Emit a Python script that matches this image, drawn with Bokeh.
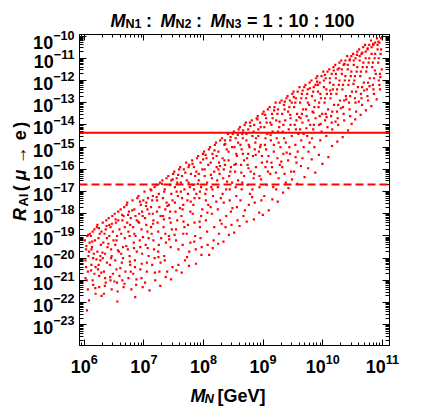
import math
from bokeh.plotting import figure
from bokeh.layouts import column, row
from bokeh.models import Range1d, LogAxis, FixedTicker, Label, Span, CustomJSTickFormatter
from bokeh.embed import file_html
from bokeh.resources import INLINE

# ---------------- data: (log10 M_N/GeV, log10 R_Al) ----------------
pts_6 = [(6.01,-19.2),(6.02,-20.1),(6.03,-19.6),(6.04,-21.0),(6.05,-19.0),(6.06,-20.6),(6.07,-19.9),(6.08,-21.9),(6.09,-19.3),(6.03,-20.4),(6.06,-21.4),(6.08,-19.7),(6.02,-20.9),(6.095,-18.9),
(6.11,-19.0),(6.12,-20.3),(6.13,-19.5),(6.14,-18.8),(6.15,-21.2),(6.16,-19.8),(6.17,-20.7),(6.18,-19.2),(6.19,-21.6),(6.12,-19.6),(6.15,-20.0),(6.17,-18.7),(6.19,-20.4),(6.14,-21.0),
(6.21,-18.6),(6.22,-19.7),(6.23,-20.5),(6.24,-19.1),(6.25,-21.3),(6.26,-18.9),(6.27,-20.1),(6.28,-19.4),(6.29,-21.7),(6.22,-18.5),(6.25,-20.8),(6.27,-19.9),(6.29,-18.8),(6.24,-20.3),
(6.31,-18.4),(6.32,-19.3),(6.33,-20.6),(6.34,-18.9),(6.35,-19.8),(6.36,-21.1),(6.37,-18.3),(6.38,-20.2),(6.39,-19.5),(6.33,-21.6),(6.36,-18.7),(6.38,-19.1),(6.31,-20.0),(6.35,-20.9),
(6.41,-18.2),(6.42,-19.0),(6.43,-20.3),(6.44,-18.6),(6.45,-19.6),(6.46,-21.4),(6.47,-18.1),(6.48,-20.7),(6.49,-19.2),(6.42,-18.5),(6.44,-21.0),(6.46,-19.9),(6.48,-18.8),(6.45,-20.0),
(6.51,-18.0),(6.52,-19.4),(6.53,-18.4),(6.54,-20.5),(6.55,-19.0),(6.56,-21.5),(6.57,-17.9),(6.58,-19.7),(6.59,-18.7),(6.52,-20.1),(6.55,-21.1),(6.57,-18.3),(6.59,-20.8),(6.54,-19.2),
(6.61,-17.8),(6.62,-18.9),(6.63,-20.2),(6.64,-18.3),(6.65,-19.5),(6.66,-21.3),(6.67,-17.7),(6.68,-18.6),(6.69,-20.6),(6.62,-19.8),(6.64,-21.0),(6.66,-18.1),(6.68,-19.1),(6.65,-20.0),
(6.71,-17.6),(6.72,-18.4),(6.73,-19.6),(6.74,-20.9),(6.75,-17.9),(6.76,-19.0),(6.77,-20.3),(6.78,-18.2),(6.79,-21.4),(6.72,-17.5),(6.74,-18.8),(6.76,-19.9),(6.78,-20.6),(6.77,-18.5),
(6.81,-17.4),(6.82,-18.6),(6.83,-19.3),(6.84,-17.8),(6.85,-20.1),(6.86,-18.1),(6.87,-21.2),(6.88,-19.7),(6.89,-17.3),(6.82,-20.7),(6.84,-18.9),(6.86,-19.0),(6.88,-18.3),(6.85,-20.4),
(6.91,-17.2),(6.92,-18.0),(6.93,-19.2),(6.94,-20.5),(6.95,-17.6),(6.96,-18.7),(6.97,-19.8),(6.98,-21.3),(6.99,-17.4),(6.92,-18.4),(6.94,-19.5),(6.96,-20.9),(6.98,-18.1),(6.97,-17.9),
(6.035,-19.45),(6.065,-18.95),(6.115,-20.55),(6.135,-19.25),(6.185,-21.35),(6.205,-20.05),(6.245,-18.65),(6.285,-20.65),(6.305,-19.75),(6.345,-21.25),(6.375,-18.55),(6.405,-19.35),
(6.435,-20.85),(6.465,-18.45),(6.505,-21.05),(6.525,-18.25),(6.565,-19.65),(6.605,-20.45),(6.635,-18.05),(6.675,-21.15),(6.705,-19.45),(6.735,-18.05),(6.765,-20.15),(6.805,-17.85),
(6.835,-19.55),(6.875,-20.95),(6.905,-18.35),(6.935,-17.45),(6.965,-20.25),(6.985,-19.05),(6.045,-22.35),(6.555,-21.95),(6.855,-21.75)]

pts_7 = [(7.01,-17.0),(7.02,-18.2),(7.03,-19.4),(7.04,-17.5),(7.05,-20.6),(7.06,-18.8),(7.07,-17.3),(7.08,-19.9),(7.09,-18.0),(7.02,-21.1),(7.04,-18.5),(7.06,-17.8),(7.08,-19.1),(7.05,-20.2),
(7.11,-16.9),(7.12,-17.7),(7.13,-18.9),(7.14,-20.3),(7.15,-17.2),(7.16,-18.3),(7.17,-19.6),(7.18,-16.8),(7.19,-21.0),(7.12,-18.6),(7.14,-17.4),(7.16,-19.2),(7.18,-20.0),(7.15,-18.0),
(7.21,-16.7),(7.22,-17.9),(7.23,-18.4),(7.24,-19.7),(7.25,-17.1),(7.26,-20.6),(7.27,-16.6),(7.28,-18.1),(7.29,-19.1),(7.22,-17.4),(7.24,-18.8),(7.26,-17.7),(7.28,-20.2),(7.25,-19.4),
(7.31,-16.5),(7.32,-17.3),(7.33,-18.6),(7.34,-19.9),(7.35,-16.9),(7.36,-17.8),(7.37,-19.3),(7.38,-16.4),(7.39,-20.6),(7.32,-18.1),(7.34,-17.0),(7.36,-18.9),(7.38,-17.5),(7.35,-20.1),
(7.41,-16.3),(7.42,-17.6),(7.43,-18.2),(7.44,-16.7),(7.45,-19.5),(7.46,-17.1),(7.47,-18.7),(7.48,-20.4),(7.49,-16.2),(7.42,-19.0),(7.44,-17.9),(7.46,-16.5),(7.48,-17.4),(7.45,-18.4),
(7.51,-16.1),(7.52,-16.8),(7.53,-17.9),(7.54,-19.2),(7.55,-16.4),(7.56,-18.3),(7.57,-17.2),(7.58,-20.3),(7.59,-16.0),(7.52,-17.5),(7.54,-18.7),(7.56,-16.6),(7.58,-19.6),(7.55,-17.0),
(7.61,-15.9),(7.62,-17.0),(7.63,-18.1),(7.64,-16.3),(7.65,-19.4),(7.66,-17.6),(7.67,-16.0),(7.68,-18.6),(7.69,-20.1),(7.62,-16.6),(7.64,-17.3),(7.66,-18.9),(7.68,-16.9),(7.65,-17.8),
(7.71,-15.7),(7.72,-16.5),(7.73,-17.4),(7.74,-18.5),(7.75,-15.9),(7.76,-19.7),(7.77,-16.8),(7.78,-17.9),(7.79,-16.2),(7.72,-18.9),(7.74,-17.1),(7.76,-15.8),(7.78,-19.3),(7.75,-16.6),
(7.81,-15.6),(7.82,-16.7),(7.83,-17.6),(7.84,-15.9),(7.85,-18.4),(7.86,-16.3),(7.87,-19.6),(7.88,-17.1),(7.89,-15.5),(7.82,-18.0),(7.84,-16.9),(7.86,-19.0),(7.88,-16.1),(7.85,-17.3),
(7.91,-15.4),(7.92,-16.2),(7.93,-17.3),(7.94,-18.6),(7.95,-15.7),(7.96,-16.8),(7.97,-19.5),(7.98,-17.8),(7.99,-15.3),(7.92,-16.5),(7.94,-17.0),(7.96,-18.1),(7.98,-16.0),(7.95,-19.1),
(7.035,-17.65),(7.065,-19.55),(7.095,-21.45),(7.125,-16.95),(7.155,-18.45),(7.185,-20.65),(7.215,-17.25),(7.245,-19.95),(7.275,-21.25),(7.305,-16.65),(7.335,-18.25),(7.365,-20.85),
(7.395,-17.65),(7.425,-19.15),(7.455,-20.95),(7.485,-16.45),(7.515,-18.95),(7.545,-20.55),(7.575,-16.25),(7.605,-17.75),(7.635,-20.65),(7.665,-18.35),(7.695,-16.15),(7.725,-19.95),
(7.755,-20.35),(7.785,-17.45),(7.815,-15.75),(7.845,-19.25),(7.875,-20.25),(7.905,-16.65),(7.935,-18.35),(7.965,-19.85),(7.995,-15.55)]

pts_8 = [(8.01,-15.2),(8.02,-16.0),(8.03,-17.1),(8.04,-18.3),(8.05,-15.5),(8.06,-16.6),(8.07,-19.4),(8.08,-17.6),(8.09,-15.1),(8.02,-16.3),(8.04,-17.4),(8.06,-18.8),(8.08,-15.8),(8.05,-16.9),
(8.11,-15.0),(8.12,-15.7),(8.13,-16.8),(8.14,-18.0),(8.15,-15.3),(8.16,-17.2),(8.17,-19.2),(8.18,-16.1),(8.19,-14.9),(8.12,-17.7),(8.14,-16.4),(8.16,-15.5),(8.18,-18.6),(8.15,-16.9),
(8.21,-14.8),(8.22,-15.9),(8.23,-16.5),(8.24,-17.8),(8.25,-15.2),(8.26,-18.9),(8.27,-16.2),(8.28,-14.7),(8.29,-17.3),(8.22,-15.4),(8.24,-16.8),(8.26,-15.7),(8.28,-18.3),(8.25,-16.0),
(8.31,-14.6),(8.32,-15.5),(8.33,-16.4),(8.34,-17.5),(8.35,-14.9),(8.36,-15.8),(8.37,-18.6),(8.38,-16.9),(8.39,-15.1),(8.32,-17.1),(8.34,-16.0),(8.36,-14.7),(8.38,-18.1),(8.35,-15.6),
(8.41,-14.4),(8.42,-15.2),(8.43,-16.3),(8.44,-17.4),(8.45,-14.7),(8.46,-15.9),(8.47,-18.5),(8.48,-16.6),(8.49,-14.4),(8.42,-15.6),(8.44,-16.9),(8.46,-17.9),(8.48,-15.0),(8.45,-16.1),
(8.51,-14.3),(8.52,-15.0),(8.53,-16.1),(8.54,-14.6),(8.55,-17.2),(8.56,-15.4),(8.57,-18.3),(8.58,-16.5),(8.59,-14.2),(8.52,-15.8),(8.54,-16.8),(8.56,-17.7),(8.58,-14.8),(8.55,-15.3),
(8.61,-14.1),(8.62,-14.9),(8.63,-15.8),(8.64,-16.9),(8.65,-14.4),(8.66,-15.3),(8.67,-18.1),(8.68,-16.3),(8.69,-14.0),(8.62,-17.4),(8.64,-15.1),(8.66,-14.6),(8.68,-15.6),(8.65,-16.6),
(8.71,-13.9),(8.72,-14.7),(8.73,-15.5),(8.74,-16.7),(8.75,-14.2),(8.76,-17.6),(8.77,-15.0),(8.78,-13.9),(8.79,-16.1),(8.72,-14.4),(8.74,-15.8),(8.76,-14.9),(8.78,-17.1),(8.75,-15.3),
(8.81,-13.8),(8.82,-14.5),(8.83,-15.4),(8.84,-16.4),(8.85,-14.0),(8.86,-17.5),(8.87,-14.8),(8.88,-15.9),(8.89,-13.7),(8.82,-16.9),(8.84,-14.3),(8.86,-15.1),(8.88,-14.6),(8.85,-16.2),
(8.91,-13.6),(8.92,-14.2),(8.93,-15.2),(8.94,-16.3),(8.95,-13.9),(8.96,-14.9),(8.97,-17.4),(8.98,-15.7),(8.99,-13.5),(8.92,-14.5),(8.94,-16.8),(8.96,-14.1),(8.98,-15.4),(8.95,-15.0),
(8.035,-15.35),(8.065,-17.95),(8.095,-19.85),(8.125,-16.25),(8.155,-19.55),(8.185,-15.15),(8.215,-17.45),(8.245,-19.35),(8.275,-15.85),(8.305,-18.45),(8.335,-19.25),(8.365,-14.85),
(8.395,-16.55),(8.425,-18.95),(8.455,-14.55),(8.485,-17.75),(8.515,-18.85),(8.545,-15.75),(8.575,-14.45),(8.605,-18.55),(8.635,-16.15),(8.665,-14.25),(8.695,-17.85),(8.725,-18.35),
(8.755,-15.95),(8.785,-14.05),(8.815,-17.25),(8.845,-18.25),(8.875,-15.35),(8.905,-13.75),(8.935,-17.95),(8.965,-16.45),(8.995,-18.05)]

pts_9 = [(9.01,-13.4),(9.02,-14.1),(9.03,-14.9),(9.04,-15.9),(9.05,-13.7),(9.06,-16.7),(9.07,-14.4),(9.08,-13.3),(9.09,-15.4),(9.02,-17.2),(9.04,-14.6),(9.06,-13.9),(9.08,-16.1),(9.05,-15.1),
(9.11,-13.2),(9.12,-13.9),(9.13,-14.7),(9.14,-15.7),(9.15,-13.5),(9.16,-14.3),(9.17,-16.8),(9.18,-15.2),(9.19,-13.2),(9.12,-16.2),(9.14,-14.0),(9.16,-13.7),(9.18,-14.9),(9.15,-15.9),
(9.21,-13.0),(9.22,-13.8),(9.23,-14.6),(9.24,-15.5),(9.25,-13.3),(9.26,-16.4),(9.27,-14.1),(9.28,-13.0),(9.29,-15.0),(9.22,-16.9),(9.24,-13.5),(9.26,-14.8),(9.28,-15.8),(9.25,-14.3),
(9.31,-12.9),(9.32,-13.5),(9.33,-14.3),(9.34,-15.3),(9.35,-13.1),(9.36,-16.2),(9.37,-13.8),(9.38,-14.8),(9.39,-12.8),(9.32,-15.9),(9.34,-14.0),(9.36,-13.3),(9.38,-16.6),(9.35,-14.6),
(9.41,-12.7),(9.42,-13.4),(9.43,-14.2),(9.44,-15.0),(9.45,-12.9),(9.46,-13.7),(9.47,-16.1),(9.48,-14.5),(9.49,-12.6),(9.42,-15.6),(9.44,-13.2),(9.46,-14.0),(9.48,-13.0),(9.45,-15.3),
(9.51,-12.5),(9.52,-13.2),(9.53,-14.0),(9.54,-14.9),(9.55,-12.8),(9.56,-15.7),(9.57,-13.5),(9.58,-12.5),(9.59,-14.4),(9.52,-16.1),(9.54,-13.0),(9.56,-13.8),(9.58,-15.2),(9.55,-14.2),
(9.61,-12.3),(9.62,-13.0),(9.63,-13.7),(9.64,-14.7),(9.65,-12.6),(9.66,-15.5),(9.67,-13.3),(9.68,-15.0),(9.69,-12.3),(9.62,-14.2),(9.64,-12.8),(9.66,-13.9),(9.68,-14.4),(9.65,-13.5),
(9.71,-12.2),(9.72,-12.8),(9.73,-13.6),(9.74,-14.5),(9.75,-12.4),(9.76,-15.2),(9.77,-13.1),(9.78,-12.1),(9.79,-14.0),(9.72,-13.3),(9.74,-12.6),(9.76,-13.8),(9.78,-14.8),(9.75,-13.0),
(9.81,-12.0),(9.82,-12.7),(9.83,-13.4),(9.84,-14.2),(9.85,-12.3),(9.86,-15.0),(9.87,-12.9),(9.88,-13.7),(9.89,-11.9),(9.82,-14.6),(9.84,-12.5),(9.86,-13.2),(9.88,-12.2),(9.85,-14.0),
(9.91,-11.8),(9.92,-12.5),(9.93,-13.2),(9.94,-14.0),(9.95,-12.1),(9.96,-14.7),(9.97,-12.8),(9.98,-11.8),(9.99,-13.5),(9.92,-12.2),(9.94,-13.0),(9.96,-12.6),(9.98,-14.3),(9.95,-13.6),
(9.035,-13.55),(9.065,-15.65),(9.095,-17.85),(9.125,-14.45),(9.155,-17.35),(9.185,-13.35),(9.215,-16.15),(9.245,-17.45),(9.275,-13.85),(9.305,-15.65),(9.335,-17.05),(9.365,-12.95),
(9.395,-15.25),(9.425,-16.85),(9.455,-13.55),(9.485,-16.45),(9.515,-12.75),(9.545,-15.45),(9.575,-16.65),(9.605,-13.65),(9.635,-15.85),(9.665,-12.45),(9.695,-16.35),(9.725,-14.15),
(9.755,-15.95),(9.785,-12.35),(9.815,-15.55),(9.845,-13.45),(9.875,-16.15),(9.905,-12.05),(9.935,-15.35),(9.965,-13.95),(9.995,-15.75)]

pts_10 = [(10.01,-11.6),(10.02,-12.3),(10.03,-13.0),(10.04,-13.8),(10.05,-11.9),(10.06,-14.5),(10.07,-12.6),(10.08,-11.6),(10.09,-13.3),(10.02,-12.0),(10.04,-12.8),(10.06,-12.4),(10.08,-14.1),(10.05,-13.5),
(10.11,-11.5),(10.12,-12.1),(10.13,-12.8),(10.14,-13.6),(10.15,-11.7),(10.16,-14.2),(10.17,-12.4),(10.18,-11.4),(10.19,-13.1),(10.12,-11.9),(10.14,-12.6),(10.16,-13.4),(10.18,-12.2),(10.15,-13.9),
(10.21,-11.3),(10.22,-11.9),(10.23,-12.6),(10.24,-13.4),(10.25,-11.5),(10.26,-14.0),(10.27,-12.2),(10.28,-11.2),(10.29,-12.9),(10.22,-11.7),(10.24,-12.4),(10.26,-13.1),(10.28,-12.0),(10.25,-13.7),
(10.31,-11.1),(10.32,-11.7),(10.33,-12.4),(10.34,-13.2),(10.35,-11.3),(10.36,-13.8),(10.37,-12.0),(10.38,-11.1),(10.39,-12.7),(10.32,-11.5),(10.34,-12.2),(10.36,-12.9),(10.38,-11.8),(10.35,-13.5),
(10.41,-10.9),(10.42,-11.5),(10.43,-12.2),(10.44,-13.0),(10.45,-11.1),(10.46,-13.6),(10.47,-11.8),(10.48,-10.9),(10.49,-12.5),(10.42,-11.3),(10.44,-12.0),(10.46,-12.7),(10.48,-11.6),(10.45,-13.3),
(10.51,-10.8),(10.52,-11.3),(10.53,-12.0),(10.54,-12.8),(10.55,-11.0),(10.56,-13.4),(10.57,-11.6),(10.58,-10.7),(10.59,-12.3),(10.52,-11.1),(10.54,-11.8),(10.56,-12.5),(10.58,-11.4),(10.55,-13.0),
(10.61,-10.6),(10.62,-11.1),(10.63,-11.8),(10.64,-12.6),(10.65,-10.8),(10.66,-13.1),(10.67,-11.4),(10.68,-10.5),(10.69,-12.1),(10.62,-10.9),(10.64,-11.6),(10.66,-12.3),(10.68,-11.2),(10.65,-12.8),
(10.71,-10.4),(10.72,-11.0),(10.73,-11.6),(10.74,-12.4),(10.75,-10.6),(10.76,-12.9),(10.77,-11.2),(10.78,-10.4),(10.79,-11.9),(10.72,-10.7),(10.74,-11.4),(10.76,-12.1),(10.78,-11.0),(10.75,-12.7),
(10.81,-10.2),(10.82,-10.8),(10.83,-11.4),(10.84,-12.2),(10.85,-10.4),(10.86,-12.6),(10.87,-11.0),(10.88,-10.3),(10.89,-11.7),(10.82,-10.5),(10.84,-11.2),(10.86,-11.9),(10.88,-10.8),(10.85,-12.4),
(10.91,-10.1),(10.92,-10.6),(10.93,-11.2),(10.94,-12.0),(10.95,-10.3),(10.96,-12.4),(10.97,-10.8),(10.98,-10.1),(10.99,-11.5),(10.92,-10.4),(10.94,-11.0),(10.96,-11.7),(10.98,-10.6),(10.95,-12.2),
(10.035,-11.75),(10.065,-13.65),(10.095,-15.45),(10.125,-12.45),(10.155,-14.95),(10.185,-11.55),(10.215,-13.85),(10.245,-14.75),(10.275,-11.45),(10.305,-13.25),(10.335,-14.55),(10.365,-11.25),
(10.395,-12.85),(10.425,-14.25),(10.455,-11.05),(10.485,-13.95),(10.515,-12.15),(10.545,-13.75),(10.575,-10.85),(10.605,-12.95),(10.635,-13.55),(10.665,-10.75),(10.695,-12.45),(10.725,-13.35),
(10.755,-10.55),(10.785,-12.25),(10.815,-13.15),(10.845,-10.35),(10.875,-11.55),(10.905,-12.85),(10.935,-10.25),(10.965,-11.85),(10.995,-10.05)]

limit_solid = 4.4e-15    # horizontal solid line
limit_dashed = 2.1e-17   # horizontal dashed line
x_tick_exps = [6, 7, 8, 9, 10, 11]
y_tick_exps = list(range(-10, -24, -1))
x_lims = (10**5.92, 10**11.12)
y_lims = (10**-23.93, 10**-9.93)

# ---------------- layout (page pixels) ----------------
PW, PH = 424, 406          # whole page
TH = 30                    # title strip height
YW = 30                    # y-title strip width
FL, FR, FT, FB = 78, 389, 34, 345   # frame edges on the page
MB = 377                   # bottom of the main plot (x-title strip below)
FONT = "Liberation Sans"

def strip(w, h, x0, y0):
    f = figure(width=w, height=h, x_range=Range1d(x0, x0 + w), y_range=Range1d(y0 + h, y0),
               x_axis_location=None, y_axis_location=None, min_border=0,
               toolbar_location=None, output_backend="svg")
    f.outline_line_color = None
    f.grid.visible = False
    f.background_fill_color = "white"
    f.border_fill_color = "white"
    return f

def lab(f, text, px, py, size, style="bold", angle=0.0):
    f.add_layout(Label(x=px, y=py, text=text, text_font=FONT, text_font_size=f"{size}px",
                       text_font_style=style, text_color="black",
                       text_align="left", text_baseline="alphabetic", angle=angle))

# ---- main plot ----
p = figure(width=PW - YW, height=MB - TH, x_axis_type="log", y_axis_type="log",
           x_range=Range1d(*x_lims), y_range=Range1d(*y_lims),
           output_backend="svg", toolbar_location=None,
           min_border_left=FL - YW, min_border_right=PW - FR,
           min_border_top=FT - TH, min_border_bottom=MB - FB)
p.grid.visible = False
p.outline_line_color = "black"
p.outline_line_width = 1
p.background_fill_color = "white"
p.border_fill_color = "white"

all_pts = pts_6 + pts_7 + pts_8 + pts_9 + pts_10
xs = [10**a for a, b in all_pts]
ys = [10**b for a, b in all_pts]
p.scatter(xs, ys, marker="square", size=2.2, fill_color="red", line_color=None)

p.add_layout(Span(location=limit_solid, dimension="width", line_color="red", line_width=2))
p.add_layout(Span(location=limit_dashed, dimension="width", line_color="red", line_width=2, line_dash="8 4"))

def ticker(exps):
    ticks = [10.0**e for e in exps]
    lo, hi = min(exps), max(exps)
    minor = [k * 10.0**e for e in range(lo - 1, hi + 1) for k in range(2, 10)]
    return FixedTicker(ticks=ticks, minor_ticks=minor)

def style_axis(ax, major, minor, labels, standoff=5):
    ax.major_tick_in = major
    ax.major_tick_out = 0
    ax.minor_tick_in = minor
    ax.minor_tick_out = 0
    ax.axis_line_color = "black"
    ax.major_tick_line_color = "black"
    ax.minor_tick_line_color = "black"
    if labels:
        ax.major_label_text_font = FONT
        ax.major_label_text_font_style = "bold"
        ax.major_label_text_font_size = "18px"
        ax.major_label_text_color = "black"
        ax.major_label_standoff = standoff
    else:
        ax.formatter = CustomJSTickFormatter(code="return ''")
        ax.major_label_text_font_size = "1px"
        ax.major_label_standoff = 0

p.xaxis[0].ticker = ticker(x_tick_exps)
p.yaxis[0].ticker = ticker(y_tick_exps)
style_axis(p.xaxis[0], 6, 3, True, 8)
style_axis(p.yaxis[0], 7, 4, True, 5)
top = LogAxis(ticker=ticker(x_tick_exps))
right = LogAxis(ticker=ticker(y_tick_exps))
style_axis(top, 6, 3, False)
style_axis(right, 7, 4, False)
p.add_layout(top, "above")
p.add_layout(right, "right")

# ---- title strip ----
t = strip(PW, TH, 0, 0)
lab(t, "M", 110, 20, 18, "bold italic")
lab(t, "N1", 125, 23.5, 12.5)
lab(t, ":", 145.5, 20, 18)
lab(t, "M", 160, 20, 18, "bold italic")
lab(t, "N2", 175, 23.5, 12.5)
lab(t, ":", 195.5, 20, 18)
lab(t, "M", 210, 20, 18, "bold italic")
lab(t, "N3", 225, 23.5, 12.5)
lab(t, "= 1 : 10 : 100", 246.5, 20, 18)

# ---- y-title strip ----
yl = strip(YW, MB - TH, 0, TH)
A = math.pi / 2
lab(yl, "R", 19, 238, 18, "bold italic", angle=A)
lab(yl, "Al", 23, 222, 13, angle=A)
lab(yl, "(", 19, 205, 18, angle=A)
lab(yl, "\u03bc", 19, 193, 18, "bold italic", angle=A)
lab(yl, "\u2192", 19, 175, 18, angle=A)
lab(yl, "e", 19, 148, 18, angle=A)
lab(yl, ")", 19, 134, 18, angle=A)

# ---- x-title strip ----
xl = strip(PW, PH - MB, 0, MB)
lab(xl, "M", 190, 395, 18, "bold italic")
lab(xl, "N", 204, 398, 13, "bold italic")
lab(xl, "[GeV]", 217, 395, 18)

layout = column(t, row(yl, p, spacing=0), xl, spacing=0)
open("out.html", "w").write(file_html(layout, INLINE))
